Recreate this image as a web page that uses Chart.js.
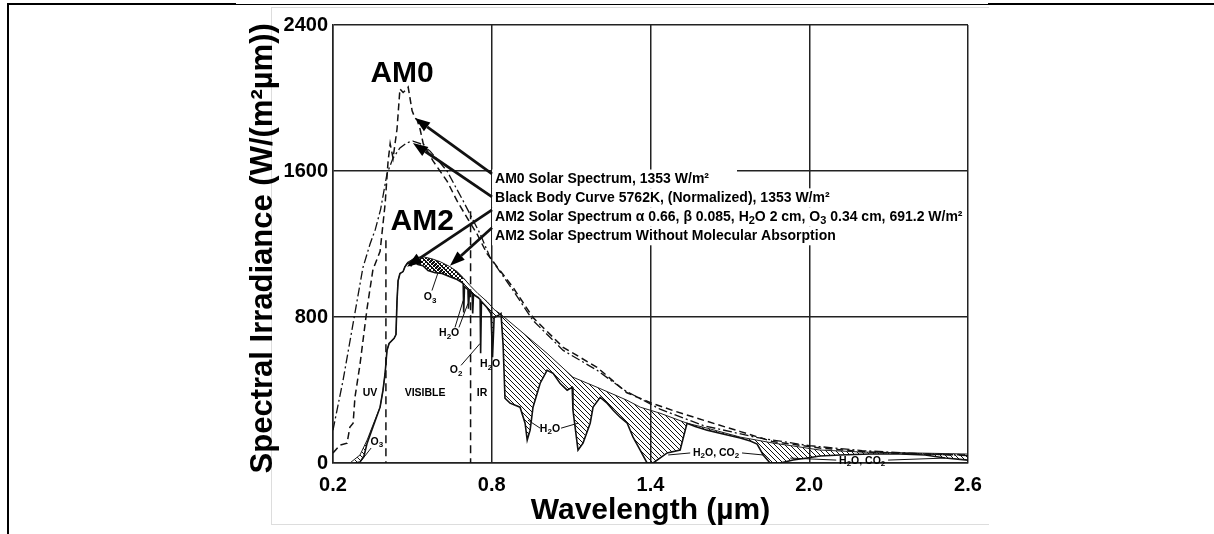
<!DOCTYPE html>
<html><head><meta charset="utf-8">
<script src="https://cdn.jsdelivr.net/npm/chart.js@4.4.1/dist/chart.umd.min.js"></script>
<style>
html,body{margin:0;padding:0;background:#fff;width:1214px;height:534px;overflow:hidden;position:relative}
.b{position:absolute;background:#000}
#frame{position:absolute;left:271px;top:7px;width:717px;height:516px;border-left:1px solid #ddd;border-top:1px solid #ddd;border-bottom:1px solid #ddd}
canvas{position:absolute;left:0;top:0}
</style></head><body>
<div class="b" style="left:7px;top:3px;width:229px;height:2px"></div>
<div class="b" style="left:236px;top:4px;width:752px;height:1px"></div>
<div class="b" style="left:988px;top:3px;width:226px;height:2px"></div>
<div class="b" style="left:7px;top:3px;width:2px;height:531px"></div>
<div id="frame"></div>
<canvas id="c" width="1214" height="534"></canvas>
<script>
// ---------- DATA ----------
const xTickValues = [0.2, 0.8, 1.4, 2.0, 2.6];
const xTickLabels = ['0.2', '0.8', '1.4', '2.0', '2.6'];
const yTickValues = [0, 800, 1600, 2400];
const yTickLabels = ['0', '800', '1600', '2400'];

// AM0 solar spectrum (dashed)
const am0Wl  = [0.200,0.226,0.253,0.264,0.276,0.283,0.302,0.329,0.351,0.378,0.397,0.408,0.416,0.427,0.442,0.453,0.465,0.472,0.484,0.491,0.499,0.510,0.518,0.529,0.541,0.578,0.631,0.669,0.707,0.744,0.782,0.881,0.956,1.070,1.198,1.311,1.400,1.490,1.610,1.740,1.860,2.040,2.220,2.400,2.600];
const am0Val = [55,   98,   109,  197,  218,  360,  540,  850,  1060, 1160, 1420, 1650, 1750, 1670, 1830, 2050, 2030, 2040, 2060, 2000, 1930, 1890, 1880, 1830, 1750, 1655, 1545, 1436, 1343, 1256, 1147, 961,  797,  634,  524,  385,  330,  285,  230,  172,  118,  82,   60,   50,   44];

// Black body 5762K normalized (dash-dot)
const bbWl  = [0.200,0.238,0.276,0.313,0.340,0.360,0.380,0.404,0.427,0.453,0.480,0.502,0.530,0.567,0.631,0.692,0.756,0.794,0.881,0.956,1.070,1.198,1.300,1.436,1.600,1.800,2.000,2.200,2.400,2.600];
const bbVal = [180,  453,  765,  1070, 1200, 1280, 1390, 1584, 1671, 1726, 1755, 1764, 1750, 1709, 1600, 1436, 1256, 1125, 945,  781,  617,  508,  400,  295,  205,  140,  95,   68,   52,   40];

// AM2 solar spectrum (solid)
const am2Wl  = [0.283,0.302,0.317,0.329,0.351,0.378,0.389,0.397,0.404,0.412,0.431,0.438,0.442,0.446,0.453,0.465,0.472,0.484,0.495,0.506,0.521,0.540,0.559,0.586,0.612,0.642,0.669,0.688,0.692,0.694,0.697,0.710,0.712,0.716,0.726,0.728,0.731,0.748,0.756,0.758,0.761,0.782,0.797,0.803,0.809,0.824,0.835,0.843,0.850,0.869,0.907,0.926,0.934,0.945,0.956,0.983,1.009,1.032,1.058,1.085,1.104,1.107,1.126,1.145,1.172,1.183,1.210,1.236,1.259,1.285,1.312,1.334,1.361,1.387,1.410,1.463,1.512,1.538,1.569,1.614,1.690,1.739,1.777,1.803,1.826,1.852,1.890,1.939,1.992,2.041,2.117,2.230,2.344,2.438,2.514,2.600];
const am2Val = [0,    5,    38,   109,  197,  306,  399,  492,  617,  655,  683,  704,  890,  999,  1038, 1049, 1076, 1098, 1081, 1103, 1087, 1081, 1054, 1043, 1038, 1021, 1005, 988,  983,  825,  967,  950,  846,  945,  928,  819,  923,  907,  896,  601,  885,  852,  819,  579,  797,  808,  819,  644,  355,  328,  306,  218,  126,  180,  306,  437,  508,  491,  437,  399,  415,  289,  71,   109,  218,  306,  360,  328,  289,  251,  218,  142,  71,   0,    0,    55,   71,   218,  200,  180,  153,  137,  120,  104,  44,   0,    0,    16,   27,   38,   44,   49,   49,   44,   27,   16];

// AM2 solar spectrum without molecular absorption
const am2NoAbsWl  = [0.264,0.302,0.329,0.351,0.378,0.389,0.397,0.404,0.412,0.431,0.438,0.442,0.446,0.453,0.465,0.472,0.480,0.510,0.540,0.574,0.605,0.642,0.669,0.692,0.718,0.748,0.782,0.809,0.831,0.907,1.009,1.107,1.198,1.311,1.361,1.436,1.538,1.614,1.739,1.864,1.940,2.040,2.200,2.400,2.600];
const am2NoAbsVal = [0,    44,   126,  208,  306,  399,  492,  617,  655,  683,  704,  890,  999,  1038, 1049, 1076, 1098, 1125, 1130, 1119, 1103, 1076, 1049, 1016, 972,  928,  885,  841,  819,  726,  601,  470,  415,  344,  306,  273,  218,  191,  142,  109,  93,   71,   60,   55,   49];

// ---------- ANNOTATIONS (data units) ----------
const bandLines = [{wl:0.4, top:1220}, {wl:0.72, top:1380}];
const bigLabels = [{t:'AM0', wl:0.461, v:2135}, {t:'AM2', wl:0.537, v:1322}];
const legendLines = [
  {t:'AM0 Solar Spectrum, 1353 W/m²', v:1556, ext:28},
  {t:'Black Body Curve 5762K, (Normalized), 1353 W/m²', v:1453, ext:8},
  {t:'AM2 Solar Spectrum α 0.66, β 0.085, H_2O 2 cm, O_3 0.34 cm, 691.2 W/m²', v:1349, ext:4},
  {t:'AM2 Solar Spectrum Without Molecular Absorption', v:1245, ext:8}
];
const legendX = 0.8125;
const arrows = [
  {from:[0.801,1584], to:[0.510,1890]},
  {from:[0.801,1458], to:[0.502,1753]},
  {from:[0.801,1387], to:[0.480,1076]},
  {from:[0.801,1289], to:[0.642,1081]}
];
const smallLabels = [
  {t:'UV', wl:0.340, v:382}, {t:'VISIBLE', wl:0.548, v:382}, {t:'IR', wl:0.763, v:382},
  {t:'O_3', wl:0.366, v:115}, {t:'O_3', wl:0.567, v:907}, {t:'H_2O', wl:0.639, v:710},
  {t:'O_2', wl:0.665, v:508}, {t:'H_2O', wl:0.794, v:541}, {t:'H_2O', wl:1.020, v:186},
  {t:'H_2O, CO_2', wl:1.648, v:55}, {t:'H_2O, CO_2', wl:2.200, v:11}
];
const leaders = [
  [[0.344,82],[0.306,11]], [[0.574,945],[0.597,1043]],
  [[0.661,743],[0.692,890]], [[0.676,743],[0.710,874]],
  [[0.684,535],[0.756,655]],
  [[0.983,191],[0.937,235]], [[1.062,191],[1.126,218]],
  [[1.550,55],[1.467,44]], [[1.746,55],[1.826,44]],
  [[2.102,16],[1.928,27]], [[2.298,16],[2.514,27]]
];

// ---------- HELPERS ----------
const FAM = '"Liberation Sans", Arial, Helvetica, sans-serif';
Chart.defaults.font.family = FAM;
const pts = (w, v) => w.map((x, i) => ({x, y: v[i]}));
const canvas = document.getElementById('c');
const mainCtx = canvas.getContext('2d');

function makePattern(size, draw){
  const c = document.createElement('canvas'); c.width = c.height = size;
  const g = c.getContext('2d'); g.strokeStyle = '#111'; g.lineWidth = 1;
  draw(g, size);
  return mainCtx.createPattern(c, 'repeat');
}
const diagHatch = makePattern(5, (g, s) => {
  g.beginPath(); g.moveTo(0,0); g.lineTo(s,s); g.moveTo(-1,s-1); g.lineTo(1,s+1); g.moveTo(s-1,-1); g.lineTo(s+1,1); g.stroke();
});
const crossHatch = makePattern(4, (g, s) => {
  g.beginPath(); g.moveTo(0,0); g.lineTo(s,s); g.moveTo(s,0); g.lineTo(0,s); g.stroke();
});

function segsOf(str){
  const segs = [];
  for (let i = 0; i < str.length; i++){
    if (str[i] === '_'){ segs.push([str[i+1], true]); i++; } else segs.push([str[i], false]);
  }
  return segs;
}
function richWidth(ctx, str, size){
  const main = `bold ${size}px ${FAM}`, sub = `bold ${Math.round(size*0.8)}px ${FAM}`;
  let w = 0;
  for (const [c, s] of segsOf(str)){ ctx.font = s ? sub : main; w += ctx.measureText(c).width; }
  return w;
}
function rich(ctx, str, x, y, size, align){
  const main = `bold ${size}px ${FAM}`, sub = `bold ${Math.round(size*0.8)}px ${FAM}`;
  const w = richWidth(ctx, str, size);
  let cx = align === 'left' ? x : x - w/2;
  ctx.textBaseline = 'middle'; ctx.textAlign = 'left';
  for (const [c, s] of segsOf(str)){ ctx.font = s ? sub : main; ctx.fillText(c, cx, s ? y + size*0.3 : y); cx += ctx.measureText(c).width; }
}

const annot = {
  id: 'annot',
  afterDatasetsDraw(chart){
    const {ctx, scales:{x, y}} = chart;
    const px = v => x.getPixelForValue(v), py = v => y.getPixelForValue(v);
    ctx.save();
    ctx.strokeStyle = '#111'; ctx.fillStyle = '#000';
    // band boundaries
    ctx.lineWidth = 1.5; ctx.setLineDash([8,5]);
    for (const b of bandLines){ ctx.beginPath(); ctx.moveTo(px(b.wl), py(b.top)); ctx.lineTo(px(b.wl), py(0)); ctx.stroke(); }
    ctx.setLineDash([]);
    // leader lines
    ctx.lineWidth = 1;
    for (const [a, b] of leaders){ ctx.beginPath(); ctx.moveTo(px(a[0]), py(a[1])); ctx.lineTo(px(b[0]), py(b[1])); ctx.stroke(); }
    // white boxes behind the legend text
    ctx.fillStyle = '#fff';
    for (const l of legendLines){
      const w = richWidth(ctx, l.t, 14);
      ctx.fillRect(px(legendX) - 3, py(l.v) - 9.5, w + 3 + l.ext, 19);
    }
    ctx.fillStyle = '#000';
    // arrows
    for (const ar of arrows){
      const x0 = px(ar.from[0]), y0 = py(ar.from[1]), x1 = px(ar.to[0]), y1 = py(ar.to[1]);
      const ang = Math.atan2(y1 - y0, x1 - x0), L = 15, W = 5.5;
      const bx = x1 - L*Math.cos(ang), by = y1 - L*Math.sin(ang);
      ctx.lineWidth = 2.8; ctx.beginPath(); ctx.moveTo(x0, y0); ctx.lineTo(bx, by); ctx.stroke();
      ctx.beginPath(); ctx.moveTo(x1, y1);
      ctx.lineTo(bx + W*Math.sin(ang), by - W*Math.cos(ang));
      ctx.lineTo(bx - W*Math.sin(ang), by + W*Math.cos(ang));
      ctx.closePath(); ctx.fill();
    }
    // texts
    for (const l of bigLabels) rich(ctx, l.t, px(l.wl), py(l.v), 30, 'center');
    for (const l of legendLines) rich(ctx, l.t, px(legendX), py(l.v), 14, 'left');
    for (const l of smallLabels) rich(ctx, l.t, px(l.wl), py(l.v), 10.5, 'center');
    ctx.restore();
  }
};

const o3Idx = am2NoAbsWl.map((w, i) => i).filter(i => am2NoAbsWl[i] >= 0.47 && am2NoAbsWl[i] <= 0.695);

new Chart(canvas, {
  type: 'line',
  data: {
    datasets: [
      {label:'AM0', data: pts(am0Wl, am0Val), borderColor:'#111', borderWidth:1.5, borderDash:[7,4], fill:false},
      {label:'Black Body', data: pts(bbWl, bbVal), borderColor:'#111', borderWidth:1.3, borderDash:[9,3,2,3], fill:false},
      {label:'AM2', data: pts(am2Wl, am2Val), borderColor:'#111', borderWidth:1.6, fill:false},
      {label:'AM2 no abs', data: pts(am2NoAbsWl, am2NoAbsVal), borderColor:'#222', borderWidth:1, fill:{target:2}, backgroundColor: diagHatch},
      {label:'O3 band', data: o3Idx.map(i => ({x: am2NoAbsWl[i], y: am2NoAbsVal[i]})), borderWidth:0, borderColor:'rgba(0,0,0,0)', fill:{target:2}, backgroundColor: crossHatch}
    ]
  },
  options: {
    responsive: false, animation: false, devicePixelRatio: 1,
    elements: {point:{radius:0}, line:{tension:0}},
    layout: {padding:{left:245, right:246, top:25, bottom:5}},
    plugins: {legend:{display:false}, tooltip:{enabled:false}},
    scales: {
      x: {
        type:'linear', min:0.2, max:2.6,
        afterBuildTicks: s => { s.ticks = xTickValues.map(v => ({value:v})); },
        ticks: {callback:(v, i) => xTickLabels[i], font:{size:20, weight:'bold'}, color:'#000', padding:10, maxRotation:0, autoSkip:false},
        grid: {color:'#222', lineWidth:1.5, drawTicks:false},
        border: {color:'#222', width:1.5},
        title: {display:true, text:'Wavelength (µm)', font:{size:30, weight:'bold'}, color:'#000', padding:0},
        afterFit: s => { s.height = 66; }
      },
      y: {
        type:'linear', min:0, max:2400,
        afterBuildTicks: s => { s.ticks = yTickValues.map(v => ({value:v})); },
        ticks: {callback:(v, i) => yTickLabels[i], font:{size:20, weight:'bold'}, color:'#000', padding:5, autoSkip:false},
        grid: {color:'#222', lineWidth:1.5, drawTicks:false},
        border: {color:'#222', width:1.5},
        title: {display:true, text:'Spectral Irradiance (W/(m²µm)) ', font:{size:31, weight:'bold'}, color:'#000', padding:0},
        afterFit: s => { s.width = 88; }
      }
    }
  },
  plugins: [annot]
});
</script>
</body></html>
